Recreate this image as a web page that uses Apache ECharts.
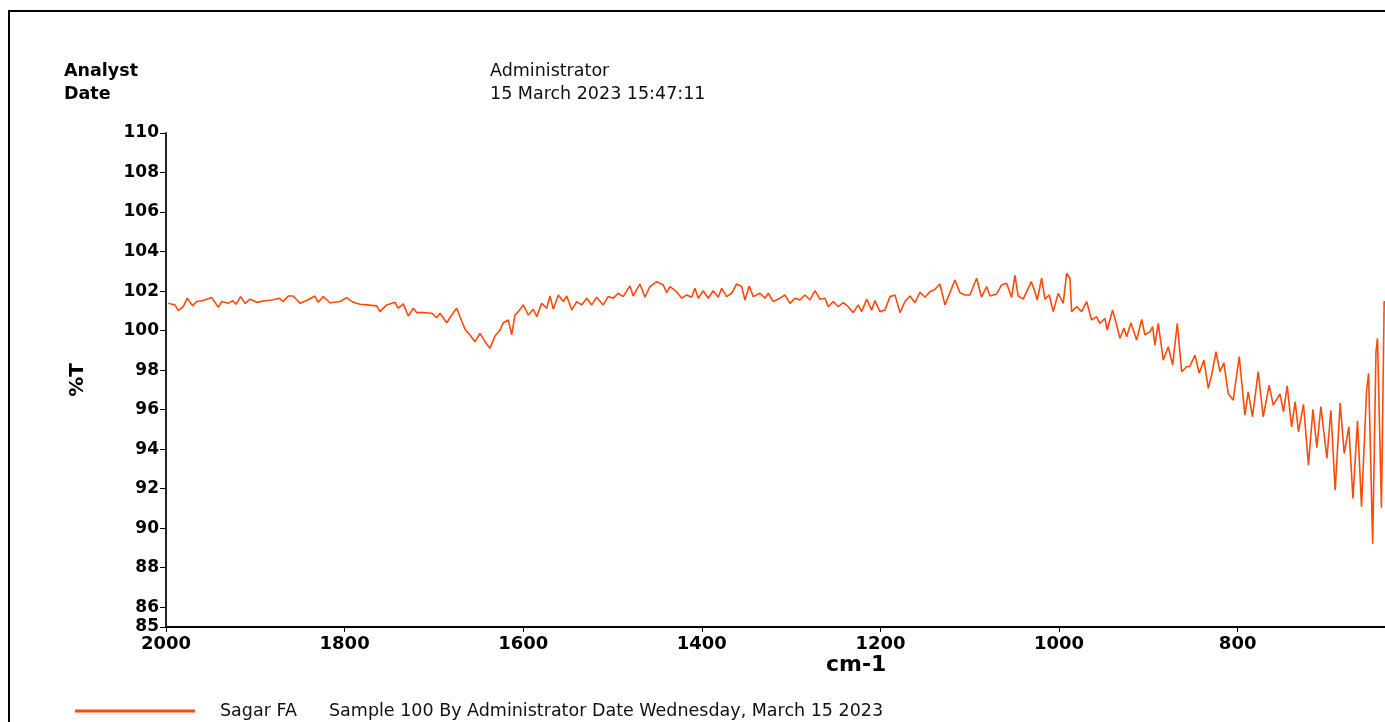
<!DOCTYPE html>
<html>
<head>
<meta charset="utf-8">
<title>Sagar FA - IR spectrum</title>
<script src="https://cdn.jsdelivr.net/npm/echarts@6/dist/echarts.min.js"></script>
<style>
  html, body { margin: 0; padding: 0; background: #ffffff; }
  #chart { width: 1385px; height: 722px; }
</style>
</head>
<body>
<div id="chart"></div>
<script>
// Wavenumbers (cm-1) of the trace, high to low
const wavenumbers = [
  1997.4, 1989.9, 1986.2, 1980.6, 1976.2, 1970.1, 1965.6, 1958.2, 1948.8, 1941.4,
  1937.6, 1930.2, 1925.3, 1921.6, 1916.4, 1911.5, 1905.9, 1898.4, 1891.1, 1881.6,
  1873.1, 1868.7, 1863.1, 1857.5, 1850.0, 1842.5, 1833.2, 1829.5, 1823.9, 1816.4,
  1805.2, 1797.7, 1790.3, 1782.8, 1775.3, 1764.1, 1760.4, 1752.9, 1743.6, 1739.9,
  1734.3, 1728.7, 1723.1, 1719.3, 1711.9, 1702.5, 1696.9, 1693.2, 1685.7, 1680.1,
  1674.5, 1670.8, 1665.2, 1659.6, 1654.0, 1648.4, 1642.8, 1637.2, 1631.6, 1626.0,
  1622.3, 1616.7, 1612.9, 1609.2, 1605.5, 1599.9, 1594.3, 1588.7, 1584.9, 1579.3,
  1573.7, 1570.0, 1566.3, 1560.7, 1555.1, 1551.3, 1545.7, 1540.1, 1534.5, 1528.9,
  1523.3, 1517.8, 1510.4, 1504.8, 1499.2, 1493.6, 1488.0, 1480.5, 1476.8, 1469.3,
  1463.7, 1458.1, 1450.6, 1443.2, 1439.4, 1435.7, 1428.2, 1422.6, 1417.0, 1411.4,
  1407.7, 1404.0, 1398.4, 1392.8, 1387.2, 1381.6, 1377.8, 1372.2, 1366.6, 1361.0,
  1355.4, 1351.7, 1346.9, 1342.4, 1334.9, 1329.3, 1325.6, 1320.0, 1312.5, 1306.9,
  1301.3, 1295.7, 1290.1, 1284.5, 1278.9, 1273.3, 1267.7, 1262.1, 1258.4, 1252.8,
  1247.2, 1241.6, 1236.0, 1230.4, 1224.8, 1221.0, 1215.4, 1209.8, 1206.1, 1200.5,
  1194.9, 1189.3, 1183.7, 1178.1, 1172.5, 1166.9, 1161.3, 1155.7, 1150.1, 1144.5,
  1138.9, 1133.4, 1127.8, 1122.2, 1116.6, 1111.0, 1105.4, 1099.8, 1092.3, 1086.7,
  1081.1, 1077.4, 1069.9, 1064.3, 1058.7, 1053.1, 1049.4, 1045.7, 1040.1, 1031.1,
  1027.0, 1024.4, 1019.5, 1015.8, 1011.0, 1006.5, 1000.9, 995.3, 991.5, 987.8,
  985.9, 980.3, 974.7, 969.1, 963.6, 958.0, 954.2, 948.6, 946.1, 940.0,
  935.5, 931.8, 927.3, 924.3, 919.5, 913.1, 907.5, 903.8, 898.2, 895.2,
  892.6, 888.9, 883.3, 877.7, 872.8, 867.6, 862.7, 857.1, 853.4, 847.8,
  843.0, 837.8, 832.9, 829.1, 824.3, 819.8, 815.4, 810.6, 805.0, 798.2,
  791.9, 788.2, 783.3, 777.0, 771.4, 764.7, 760.2, 752.6, 748.7, 744.5,
  739.6, 735.6, 731.9, 726.3, 720.7, 715.7, 711.3, 706.8, 700.1, 695.6,
  690.8, 685.2, 680.7, 675.5, 670.9, 665.8, 661.3, 655.7, 653.4, 648.8,
  645.1, 643.4, 639.0, 635.9
];

// Transmittance (%T) at each wavenumber
const transmittance = [
  101.38, 101.30, 101.01, 101.21, 101.64, 101.25, 101.47, 101.52, 101.67, 101.18,
  101.47, 101.38, 101.52, 101.33, 101.72, 101.38, 101.59, 101.43, 101.50, 101.55,
  101.64, 101.47, 101.75, 101.75, 101.38, 101.52, 101.75, 101.43, 101.72, 101.41,
  101.47, 101.67, 101.43, 101.33, 101.30, 101.25, 100.96, 101.30, 101.43, 101.13,
  101.35, 100.74, 101.13, 100.91, 100.91, 100.88, 100.65, 100.88, 100.40, 100.79,
  101.13, 100.70, 100.07, 99.78, 99.44, 99.86, 99.44, 99.10, 99.73, 100.03,
  100.40, 100.54, 99.78, 100.79, 100.96, 101.30, 100.79, 101.08, 100.70, 101.38,
  101.13, 101.75, 101.08, 101.80, 101.47, 101.75, 101.04, 101.47, 101.30, 101.64,
  101.30, 101.69, 101.30, 101.72, 101.64, 101.89, 101.72, 102.26, 101.75, 102.36,
  101.69, 102.23, 102.48, 102.31, 101.92, 102.23, 101.97, 101.64, 101.80, 101.69,
  102.14, 101.64, 102.02, 101.64, 102.02, 101.69, 102.14, 101.72, 101.89, 102.36,
  102.23, 101.55, 102.26, 101.72, 101.89, 101.64, 101.89, 101.47, 101.64, 101.80,
  101.38, 101.64, 101.55, 101.80, 101.55, 102.02, 101.59, 101.64, 101.21, 101.47,
  101.21, 101.41, 101.21, 100.91, 101.30, 100.96, 101.59, 101.04, 101.52, 100.96,
  101.04, 101.72, 101.80, 100.91, 101.47, 101.75, 101.41, 101.94, 101.69, 101.97,
  102.09, 102.36, 101.30, 101.92, 102.56, 101.92, 101.80, 101.80, 102.65, 101.69,
  102.23, 101.75, 101.85, 102.31, 102.40, 101.68, 102.80, 101.75, 101.59, 102.48,
  101.97, 101.55, 102.65, 101.59, 101.80, 100.96, 101.89, 101.38, 102.90, 102.65,
  100.96, 101.21, 100.96, 101.47, 100.54, 100.70, 100.37, 100.62, 100.03, 101.04,
  100.28, 99.61, 100.12, 99.69, 100.40, 99.52, 100.57, 99.78, 99.94, 100.20,
  99.27, 100.37, 98.51, 99.18, 98.26, 100.37, 97.92, 98.17, 98.20, 98.76,
  97.84, 98.51, 97.08, 97.75, 98.93, 97.92, 98.37, 96.82, 96.48, 98.68,
  95.72, 96.90, 95.64, 97.92, 95.64, 97.24, 96.23, 96.80, 95.89, 97.20,
  95.13, 96.40, 94.88, 96.27, 93.19, 96.02, 94.08, 96.16, 93.53, 95.97,
  91.92, 96.33, 93.78, 95.13, 91.50, 95.42, 91.09, 96.90, 97.84, 89.22,
  98.93, 99.61, 91.03, 101.50
];

// Tick labels
const xTickValues = [2000, 1800, 1600, 1400, 1200, 1000, 800];
const yTickValues = [85, 86, 88, 90, 92, 94, 96, 98, 100, 102, 104, 106, 108, 110];

// Header and legend texts
const headerLabels = ['Analyst', 'Date'];
const headerValues = ['Administrator', '15 March 2023 15:47:11'];
const seriesName = 'Sagar FA';
const seriesDetail = 'Sample 100 By Administrator Date Wednesday, March 15 2023';

const lineColor = '#ff4a0a';
const points = wavenumbers.map((w, i) => [w, transmittance[i]]);

const chart = echarts.init(document.getElementById('chart'), null, { renderer: 'canvas' });

const boldFont = 'DejaVu Sans';
const textFont = 'DejaVu Sans';

chart.setOption({
  backgroundColor: '#ffffff',
  animation: false,
  grid: { left: 166, right: 0, top: 133, bottom: 95, containLabel: false },
  xAxis: {
    type: 'value',
    inverse: true,
    min: 635,
    max: 2000,
    splitLine: { show: false },
    axisLine: { show: true, lineStyle: { color: '#000', width: 2 } },
    axisTick: { show: true, inside: false, length: 5, customValues: xTickValues, lineStyle: { color: '#000', width: 1 } },
    axisLabel: {
      customValues: xTickValues,
      formatter: (v) => String(v),
      margin: 8,
      color: '#000',
      fontFamily: boldFont,
      fontWeight: 'bold',
      fontSize: 18
    }
  },
  yAxis: {
    type: 'value',
    min: 85,
    max: 110,
    name: '%T',
    nameLocation: 'middle',
    nameGap: 78,
    nameRotate: 90,
    nameTextStyle: { color: '#000', fontFamily: boldFont, fontWeight: 'bold', fontSize: 20 },
    splitLine: { show: false },
    axisLine: { show: true, lineStyle: { color: '#222', width: 2 } },
    axisTick: { show: true, inside: false, length: 6, customValues: yTickValues, lineStyle: { color: '#000', width: 1 } },
    axisLabel: {
      customValues: yTickValues,
      formatter: (v) => String(v),
      margin: 7,
      color: '#000',
      fontFamily: boldFont,
      fontWeight: 'bold',
      fontSize: 17
    }
  },
  legend: {
    show: true,
    left: 75,
    top: 702,
    padding: 0,
    itemWidth: 120,
    itemHeight: 3,
    icon: 'rect',
    data: [{ name: seriesName }],
    formatter: function (name) {
      return '{a|' + name + '}{b|' + seriesDetail + '}';
    },
    textStyle: {
      padding: [0, 0, 0, 20],
      rich: {
        a: { width: 109, fontFamily: textFont, fontSize: 17.5, color: '#111' },
        b: { fontFamily: textFont, fontSize: 17.5, color: '#111' }
      }
    }
  },
  graphic: [
    {
      type: 'rect',
      shape: { x: 9, y: 11, width: 1420, height: 760 },
      style: { fill: 'none', stroke: '#000', lineWidth: 2 },
      silent: true
    },
    {
      type: 'text', left: 64, top: 62,
      style: { text: headerLabels[0], fill: '#000', font: 'bold 17.5px "DejaVu Sans"' }
    },
    {
      type: 'text', left: 64, top: 85,
      style: { text: headerLabels[1], fill: '#000', font: 'bold 17.5px "DejaVu Sans"' }
    },
    {
      type: 'text', left: 490, top: 62,
      style: { text: headerValues[0], fill: '#111', font: '17.5px "DejaVu Sans"' }
    },
    {
      type: 'text', left: 490, top: 85,
      style: { text: headerValues[1], fill: '#111', font: '17.5px "DejaVu Sans"' }
    },
    {
      type: 'text', left: 826, top: 654,
      style: { text: 'cm-1', fill: '#000', font: 'bold 22px "DejaVu Sans"' }
    }
  ],
  series: [
    {
      name: seriesName,
      type: 'line',
      data: points,
      showSymbol: false,
      symbol: 'none',
      smooth: false,
      clip: true,
      lineStyle: { color: lineColor, width: 1.6 },
      itemStyle: { color: lineColor }
    }
  ]
});
</script>
</body>
</html>
